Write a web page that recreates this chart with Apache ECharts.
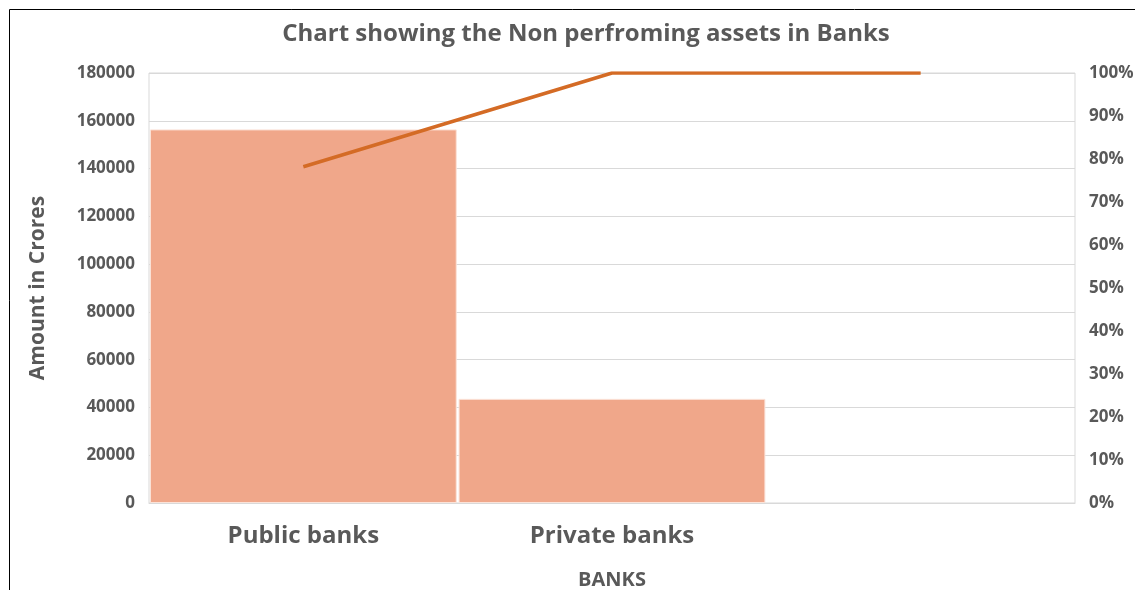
<!DOCTYPE html>
<html><head><meta charset="utf-8">
<script src="https://cdn.jsdelivr.net/npm/echarts@6/dist/echarts.min.js"></script>
<style>html,body{margin:0;padding:0;background:#fff}#c{width:1135px;height:590px}</style>
</head><body><div id="c"></div>
<script>
const categories = ['Public banks', 'Private banks', ''];
const amounts = [156400, 43600, null];
const cumulativePct = [0.782, 1.0, 1.0];

const FONT = 'Open Sans';
const GREY = '#595959';
const chart = echarts.init(document.getElementById('c'));
chart.setOption({
  animation: false,
  textStyle: { fontFamily: FONT },
  title: {
    text: 'Chart showing the Non perfroming assets in Banks',
    left: 581, top: 17, textAlign: 'center',
    textStyle: { fontFamily: FONT, fontSize: 24, fontWeight: 'bold', color: GREY }
  },
  graphic: [{
    type: 'rect', shape: { x: 9.5, y: 9.5, width: 1200, height: 700 },
    style: { fill: 'none', stroke: '#000', lineWidth: 1 }, silent: true
  }],
  grid: { left: 149, right: 60, top: 73, bottom: 87, show: true, borderColor: '#d9d9d9', borderWidth: 1,
    containLabel: false, outerBoundsMode: 'none' },
  xAxis: {
    type: 'category', data: categories,
    name: 'BANKS', nameLocation: 'middle', nameGap: 67,
    nameTextStyle: { fontFamily: FONT, fontSize: 20, fontWeight: 'bold', color: GREY },
    axisLine: { show: true, lineStyle: { color: '#d9d9d9' } },
    axisTick: { show: false },
    axisLabel: { fontFamily: FONT, fontSize: 24, fontWeight: 'bold', color: GREY, margin: 21 }
  },
  yAxis: [{
    type: 'value', min: 0, max: 180000, interval: 20000,
    name: 'Amount in Crores', nameLocation: 'middle', nameGap: 100, nameRotate: 90,
    nameTextStyle: { fontFamily: FONT, fontSize: 21, fontWeight: 'bold', color: GREY },
    axisLine: { show: false }, axisTick: { show: false },
    axisLabel: { fontFamily: FONT, fontSize: 17, fontWeight: 'bold', color: GREY, margin: 14,
      formatter: v => String(v) },
    splitLine: { lineStyle: { color: '#d9d9d9', width: 1 } }
  }, {
    type: 'value', min: 0, max: 1, interval: 0.1, position: 'right',
    axisLine: { show: false }, axisTick: { show: false }, splitLine: { show: false },
    axisLabel: { fontFamily: FONT, fontSize: 17, fontWeight: 'bold', color: GREY, margin: 14,
      formatter: v => Math.round(v * 100) + '%' }
  }],
  series: [{
    type: 'bar', data: amounts, yAxisIndex: 0,
    barCategoryGap: '0.6%',
    itemStyle: { color: '#F0A78A', borderColor: '#fbe3d9', borderWidth: 1 }
  }, {
    type: 'line', data: cumulativePct, yAxisIndex: 1,
    symbol: 'none', lineStyle: { color: '#D46B25', width: 3.5 }
  }]
});
</script></body></html>
